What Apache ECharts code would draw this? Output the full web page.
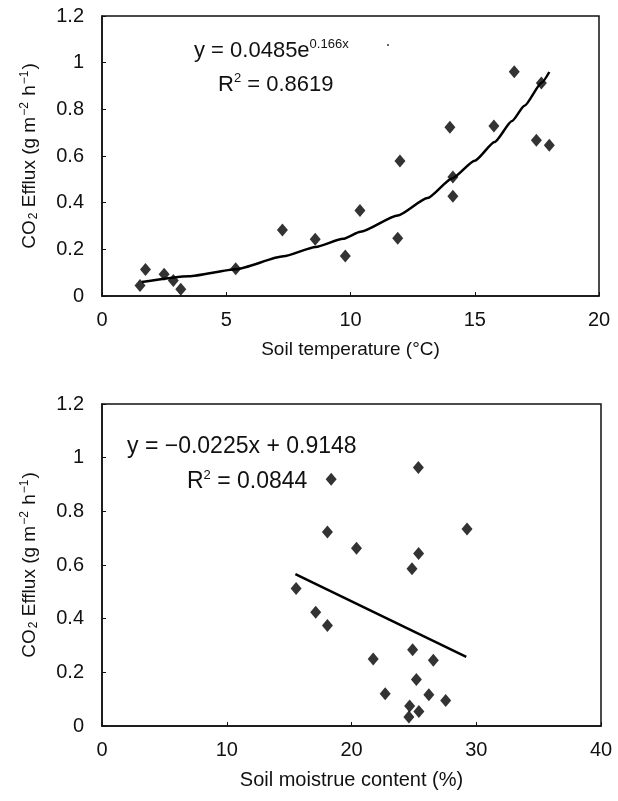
<!DOCTYPE html>
<html>
<head>
<meta charset="utf-8">
<script src="https://cdn.jsdelivr.net/npm/echarts@6/dist/echarts.min.js"></script>
<style>
html,body{margin:0;padding:0;background:#fff;}
#chart{width:618px;height:801px;}
</style>
</head>
<body>
<div id="chart"></div>
<script>
// ---- Data: top panel (soil temperature vs CO2 efflux) ----
const tempX = [1.53, 1.75, 2.5, 2.87, 3.17, 5.38, 7.26, 8.58, 9.79, 10.38, 11.9, 11.99, 14.0, 14.12, 14.12, 15.77, 16.59, 17.48, 17.68, 18.0];
const tempEfflux = [0.045, 0.114, 0.093, 0.066, 0.029, 0.117, 0.283, 0.243, 0.171, 0.366, 0.247, 0.579, 0.723, 0.51, 0.427, 0.729, 0.961, 0.667, 0.913, 0.646];
// exponential trend curve
const tempCurveX = [1.6, 3.5, 5.4, 7.3, 8.6, 9.7, 10.4, 11.9, 13.1, 14.1, 15.0, 15.8, 16.5, 17.0, 17.7, 18.0];
const tempCurveY = [0.06, 0.085, 0.115, 0.17, 0.21, 0.245, 0.275, 0.345, 0.42, 0.505, 0.58, 0.66, 0.75, 0.815, 0.915, 0.96];

// ---- Data: bottom panel (soil moisture vs CO2 efflux) ----
const moistX = [15.56, 17.13, 18.07, 18.07, 18.37, 20.4, 21.74, 22.7, 24.6, 24.66, 24.85, 24.9, 25.2, 25.36, 25.38, 25.4, 26.2, 26.56, 27.55, 29.26];
const moistEfflux = [0.512, 0.424, 0.375, 0.723, 0.92, 0.662, 0.25, 0.12, 0.034, 0.075, 0.586, 0.284, 0.173, 0.963, 0.643, 0.054, 0.116, 0.245, 0.095, 0.734];
const moistLineX = [15.5, 29.2];
const moistLineY = [0.566, 0.258];

const tempTicks = [0, 5, 10, 15, 20];
const moistTicks = [0, 10, 20, 30, 40];
const effluxTicks = [0, 0.2, 0.4, 0.6, 0.8, 1, 1.2];

const FONT = '"Liberation Sans", Arial, Helvetica, sans-serif';
const zip = (a, b) => a.map((v, i) => [v, b[i]]);

const yName = '{n|CO}{s|2}{n| Efflux (g m}{p|−2}{n| h}{p|−1}{n|)}';
const yNameRich = {
  n: {fontSize: 19, fontFamily: FONT, color: '#111'},
  s: {fontSize: 12, fontFamily: FONT, color: '#111', padding: [8, 0, 0, 1]},
  p: {fontSize: 12, fontFamily: FONT, color: '#111', padding: [0, 1, 9, 1]}
};

function xAxis(grid, ticks, name, nameSize) {
  return {
    type: 'value', gridIndex: grid, min: ticks[0], max: ticks[ticks.length - 1],
    interval: ticks[1] - ticks[0],
    name: name, nameLocation: 'middle', nameGap: 44,
    nameTextStyle: {fontSize: nameSize, fontFamily: FONT, color: '#111'},
    axisLine: {show: true, lineStyle: {color: '#111', width: 1.5}},
    axisTick: {show: true, inside: true, length: 4, lineStyle: {color: '#111'}},
    axisLabel: {fontSize: 20, fontFamily: FONT, color: '#111', margin: 14},
    splitLine: {show: false}
  };
}
function yAxis(grid) {
  return {
    type: 'value', gridIndex: grid, min: effluxTicks[0], max: effluxTicks[effluxTicks.length - 1],
    interval: effluxTicks[1] - effluxTicks[0],
    name: yName, nameLocation: 'middle', nameGap: 62,
    nameTextStyle: {rich: yNameRich},
    axisLine: {show: true, lineStyle: {color: '#111', width: 1.5}},
    axisTick: {show: true, inside: true, length: 4, lineStyle: {color: '#111'}},
    axisLabel: {fontSize: 20, fontFamily: FONT, color: '#111', margin: 18,
      formatter: v => String(+v.toFixed(1))},
    splitLine: {show: false}
  };
}

const diamond = {symbol: 'diamond', symbolSize: [11, 13], itemStyle: {color: '#000'}};

const chart = echarts.init(document.getElementById('chart'), null, {renderer: 'canvas'});
chart.setOption({
  backgroundColor: '#fff',
  animation: false,
  grid: [
    {left: 102, top: 16, width: 497, height: 280, show: true, borderColor: '#111', borderWidth: 1.5},
    {left: 102, top: 404, width: 499, height: 322, show: true, borderColor: '#111', borderWidth: 1.5}
  ],
  xAxis: [
    xAxis(0, tempTicks, 'Soil temperature (°C)', 19),
    xAxis(1, moistTicks, 'Soil moistrue content (%)', 20)
  ],
  yAxis: [yAxis(0), yAxis(1)],
  series: [
    Object.assign({type: 'scatter', xAxisIndex: 0, yAxisIndex: 0, data: zip(tempX, tempEfflux), z: 3}, diamond),
    {type: 'line', xAxisIndex: 0, yAxisIndex: 0, data: zip(tempCurveX, tempCurveY), smooth: 0.2,
      smoothMonotone: 'x', showSymbol: false, lineStyle: {color: '#000', width: 2.5}, z: 2},
    Object.assign({type: 'scatter', xAxisIndex: 1, yAxisIndex: 1, data: zip(moistX, moistEfflux), z: 3}, diamond),
    {type: 'line', xAxisIndex: 1, yAxisIndex: 1, data: zip(moistLineX, moistLineY),
      showSymbol: false, lineStyle: {color: '#000', width: 2.5}, z: 2}
  ],
  graphic: [
    {type: 'text', left: 194, top: 38, style: {
      text: '{a|y = 0.0485e}{b|0.166x}', rich: {
        a: {fontSize: 22, fontFamily: FONT, fill: '#111'},
        b: {fontSize: 13, fontFamily: FONT, fill: '#111', padding: [0, 0, 12, 0]}
      }}},
    {type: 'circle', shape: {cx: 388, cy: 45, r: 1}, style: {fill: '#333'}},
    {type: 'text', left: 218, top: 72, style: {
      text: '{a|R}{b|2}{a| = 0.8619}', rich: {
        a: {fontSize: 22, fontFamily: FONT, fill: '#111'},
        b: {fontSize: 13, fontFamily: FONT, fill: '#111', padding: [0, 0, 12, 0]}
      }}},
    {type: 'text', left: 127, top: 435, style: {
      text: 'y = −0.0225x + 0.9148', font: '23px ' + FONT, fill: '#111'}},
    {type: 'text', left: 187, top: 469, style: {
      text: '{a|R}{b|2}{a| = 0.0844}', rich: {
        a: {fontSize: 23, fontFamily: FONT, fill: '#111'},
        b: {fontSize: 13, fontFamily: FONT, fill: '#111', padding: [0, 0, 12, 0]}
      }}}
  ]
});
</script>
</body>
</html>
